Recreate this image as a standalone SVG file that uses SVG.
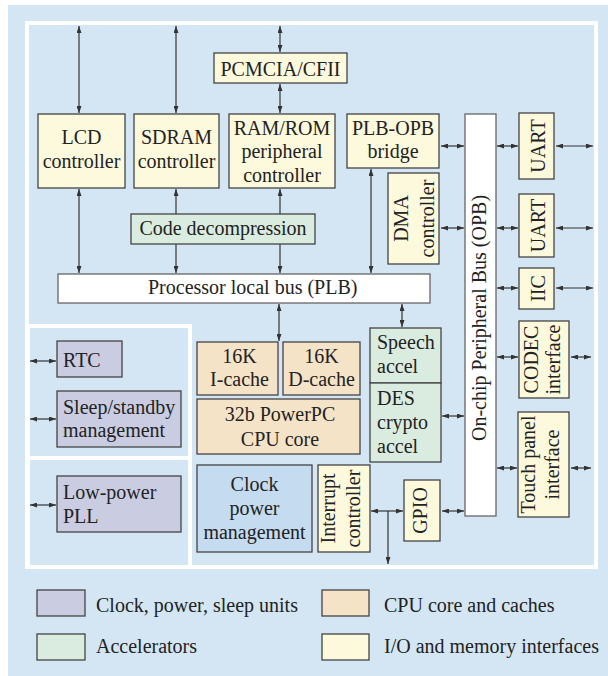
<svg xmlns="http://www.w3.org/2000/svg" width="608" height="676" viewBox="0 0 608 676">
  <defs>
    <marker id="ah" viewBox="0 0 7 5" refX="7" refY="2.5" markerWidth="7" markerHeight="5" markerUnits="userSpaceOnUse" orient="auto-start-reverse">
      <path d="M0,0 L7,2.5 L0,5 z" fill="#333"/>
    </marker>
    <style>
      text { font-family: "Liberation Serif", "Times New Roman", serif; font-size: 20px; fill: #222; }
      .c { text-anchor: middle; }
      .box { stroke: #444; stroke-width: 1.3; }
      .io { fill: #fdf9dd; }
      .cpu { fill: #f5e3c7; }
      .acc { fill: #d9ecdf; }
      .pwr { fill: #cacde2; }
      .clk { fill: #c4dbf0; }
      .bus { fill: #ffffff; stroke: #666; stroke-width: 1.3; }
      .panel { fill: none; stroke: #ffffff; stroke-width: 4; }
      .link { stroke: #333; stroke-width: 1.2; fill: none; }
      .both { marker-start: url(#ah); marker-end: url(#ah); }
      .one { marker-end: url(#ah); }
    </style>
  </defs>

  <!-- backdrop and frame panels -->
  <rect x="8" y="5" width="600" height="671" fill="#d4e6f4"/>
  <rect class="panel" x="27" y="23" width="569" height="544"/>
  <rect class="panel" x="28" y="326" width="162" height="132"/>
  <rect class="panel" x="28" y="458" width="162" height="109"/>

  <!-- connectors -->
  <g id="connectors">
    <line class="link both" x1="79" y1="26" x2="79" y2="113"/>
    <line class="link both" x1="176" y1="26" x2="176" y2="113"/>
    <line class="link both" x1="280" y1="26" x2="280" y2="52"/>
    <line class="link both" x1="280" y1="84" x2="280" y2="113"/>
    <line class="link both" x1="79" y1="189" x2="79" y2="273"/>
    <line class="link one" x1="176" y1="214" x2="176" y2="189"/>
    <line class="link one" x1="280" y1="214" x2="280" y2="189"/>
    <line class="link one" x1="176" y1="244" x2="176" y2="273"/>
    <line class="link one" x1="280" y1="244" x2="280" y2="273"/>
    <line class="link both" x1="371" y1="169" x2="371" y2="273"/>
    <line class="link both" x1="441" y1="146" x2="464" y2="146"/>
    <line class="link both" x1="441" y1="228" x2="464" y2="228"/>
    <line class="link both" x1="497" y1="146" x2="518" y2="146"/>
    <line class="link both" x1="556" y1="146" x2="593" y2="146"/>
    <line class="link both" x1="497" y1="228" x2="518" y2="228"/>
    <line class="link both" x1="556" y1="228" x2="593" y2="228"/>
    <line class="link both" x1="497" y1="288" x2="518" y2="288"/>
    <line class="link both" x1="556" y1="288" x2="593" y2="288"/>
    <line class="link both" x1="497" y1="357" x2="518" y2="357"/>
    <line class="link both" x1="571" y1="357" x2="591" y2="357"/>
    <line class="link both" x1="497" y1="468" x2="517" y2="468"/>
    <line class="link both" x1="571" y1="468" x2="591" y2="468"/>
    <line class="link both" x1="279" y1="304" x2="279" y2="341"/>
    <line class="link both" x1="402" y1="304" x2="402" y2="327"/>
    <line class="link both" x1="442" y1="416" x2="464" y2="416"/>
    <line class="link both" x1="442" y1="511" x2="464" y2="511"/>
    <line class="link both" x1="371" y1="511" x2="403" y2="511"/>
    <line class="link one" x1="388" y1="511" x2="388" y2="564"/>
    <line class="link both" x1="30" y1="361" x2="56" y2="361"/>
    <line class="link both" x1="30" y1="419" x2="56" y2="419"/>
    <line class="link both" x1="30" y1="505" x2="56" y2="505"/>
  </g>

  <!-- memory and I/O controllers -->
  <g id="pcmcia">
    <rect class="box io" x="214" y="53" width="133" height="30"/>
    <text class="c" x="280.5" y="76">PCMCIA/CFII</text>
  </g>
  <g id="lcd">
    <rect class="box io" x="38" y="114" width="87" height="74"/>
    <text class="c" x="81.5" y="144">LCD</text>
    <text class="c" x="81.5" y="168">controller</text>
  </g>
  <g id="sdram">
    <rect class="box io" x="134" y="114" width="85" height="74"/>
    <text class="c" x="176.5" y="144">SDRAM</text>
    <text class="c" x="176.5" y="168">controller</text>
  </g>
  <g id="ramrom">
    <rect class="box io" x="229" y="114" width="106" height="74"/>
    <text class="c" x="282" y="135">RAM/ROM</text>
    <text class="c" x="282" y="158">peripheral</text>
    <text class="c" x="282" y="182">controller</text>
  </g>
  <g id="bridge">
    <rect class="box io" x="347" y="114" width="92" height="54"/>
    <text class="c" x="393" y="135">PLB-OPB</text>
    <text class="c" x="393" y="158">bridge</text>
  </g>
  <g id="dma">
    <rect class="box io" x="388" y="173" width="51" height="91"/>
    <text class="c" transform="translate(408,218.5) rotate(-90)">DMA</text>
    <text class="c" transform="translate(434,218.5) rotate(-90)">controller</text>
  </g>
  <g id="decomp">
    <rect class="box acc" x="131" y="214" width="184" height="30"/>
    <text class="c" x="223" y="235">Code decompression</text>
  </g>

  <!-- buses -->
  <g id="plb">
    <rect class="bus" x="58" y="274" width="372" height="29"/>
    <text x="148" y="294">Processor local bus (PLB)</text>
  </g>
  <g id="opb">
    <rect class="bus" x="465" y="114" width="31" height="402"/>
    <text class="c" transform="translate(486,318) rotate(-90)">On-chip Peripheral Bus (OPB)</text>
  </g>

  <!-- OPB peripherals -->
  <g id="uart1">
    <rect class="box io" x="519" y="113" width="35" height="66"/>
    <text class="c" transform="translate(545,146) rotate(-90)">UART</text>
  </g>
  <g id="uart2">
    <rect class="box io" x="519" y="194" width="35" height="63"/>
    <text class="c" transform="translate(545,225.5) rotate(-90)">UART</text>
  </g>
  <g id="iic">
    <rect class="box io" x="519" y="268" width="35" height="41"/>
    <text class="c" transform="translate(545,288.5) rotate(-90)">IIC</text>
  </g>
  <g id="codec">
    <rect class="box io" x="519" y="321" width="50" height="77"/>
    <text class="c" transform="translate(538,359.5) rotate(-90)">CODEC</text>
    <text class="c" transform="translate(560,359.5) rotate(-90)">interface</text>
  </g>
  <g id="touch">
    <rect class="box io" x="518" y="412" width="51" height="105"/>
    <text class="c" transform="translate(535,464.5) rotate(-90)">Touch panel</text>
    <text class="c" transform="translate(559,464.5) rotate(-90)">interface</text>
  </g>

  <!-- CPU core and caches -->
  <g id="icache">
    <rect class="box cpu" x="197" y="342" width="81" height="53"/>
    <text class="c" x="239.5" y="363">16K</text>
    <text class="c" x="239.5" y="386">I-cache</text>
  </g>
  <g id="dcache">
    <rect class="box cpu" x="283" y="342" width="77" height="53"/>
    <text class="c" x="321.5" y="363">16K</text>
    <text class="c" x="321.5" y="386">D-cache</text>
  </g>
  <g id="cpu">
    <rect class="box cpu" x="197" y="399" width="163" height="55"/>
    <text class="c" x="280" y="421">32b PowerPC</text>
    <text class="c" x="280" y="446">CPU core</text>
  </g>

  <!-- accelerators -->
  <g id="speech">
    <rect class="box acc" x="370" y="328" width="71" height="55"/>
    <text x="377" y="349">Speech</text>
    <text x="377" y="373">accel</text>
  </g>
  <g id="des">
    <rect class="box acc" x="370" y="383" width="71" height="79"/>
    <text x="377" y="405">DES</text>
    <text x="377" y="429">crypto</text>
    <text x="377" y="453">accel</text>
  </g>

  <!-- clock, power, interrupt, GPIO -->
  <g id="clockpower">
    <rect class="box clk" x="197" y="465" width="115" height="87"/>
    <text class="c" x="254.5" y="491">Clock</text>
    <text class="c" x="254.5" y="515">power</text>
    <text class="c" x="254.5" y="539">management</text>
  </g>
  <g id="interrupt">
    <rect class="box io" x="318" y="465" width="52" height="87"/>
    <text class="c" transform="translate(335,508.5) rotate(-90)">Interrupt</text>
    <text class="c" transform="translate(360,508.5) rotate(-90)">controller</text>
  </g>
  <g id="gpio">
    <rect class="box io" x="404" y="480" width="36" height="61"/>
    <text class="c" transform="translate(427,510.5) rotate(-90)">GPIO</text>
  </g>

  <!-- power-domain units -->
  <g id="rtc">
    <rect class="box pwr" x="57" y="341" width="65" height="36"/>
    <text x="63" y="367">RTC</text>
  </g>
  <g id="sleep">
    <rect class="box pwr" x="57" y="391" width="124" height="56"/>
    <text x="63" y="414">Sleep/standby</text>
    <text x="63" y="437">management</text>
  </g>
  <g id="pll">
    <rect class="box pwr" x="57" y="476" width="124" height="56"/>
    <text x="63" y="499">Low-power</text>
    <text x="63" y="523">PLL</text>
  </g>

  <!-- legend -->
  <g id="legend">
    <rect class="box pwr" x="37" y="590" width="48" height="26"/>
    <text x="96" y="612">Clock, power, sleep units</text>
    <rect class="box cpu" x="322" y="590" width="47" height="26"/>
    <text x="384" y="612">CPU core and caches</text>
    <rect class="box acc" x="37" y="634" width="48" height="26"/>
    <text x="96" y="653">Accelerators</text>
    <rect class="box io" x="322" y="634" width="47" height="26"/>
    <text x="384" y="653">I/O and memory interfaces</text>
  </g>
</svg>
